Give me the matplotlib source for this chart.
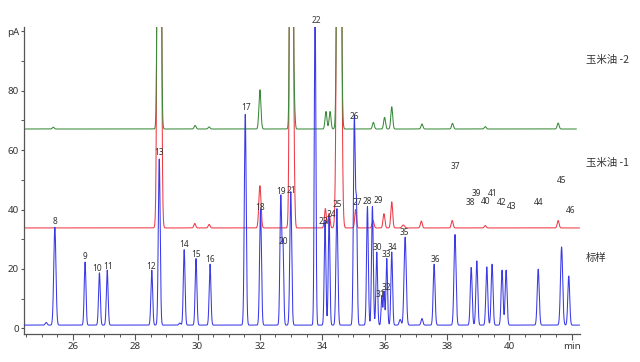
import numpy as np
import matplotlib
matplotlib.use("Agg")
import matplotlib.pyplot as plt

plt.rcParams['font.family'] = ['Noto Sans', 'Noto Sans CJK SC', 'DejaVu Sans']

# ---------------- data ----------------
# standard mixture (标样): retention time (min), apex height (pA), peak width (min)
std_rt = [25.14, 25.42, 26.39, 26.85, 27.10, 28.53, 28.77, 29.43, 29.57, 29.95, 30.40,
          31.53, 32.02, 32.67, 32.74, 32.99, 33.77, 34.09, 34.22, 34.47, 35.03, 35.10,
          35.45, 35.61, 35.75, 35.91, 35.98, 36.07, 36.23, 36.50, 36.66, 37.20, 37.59,
          38.26, 38.78, 38.96, 39.28, 39.45, 39.77, 39.90, 40.93, 41.68, 41.91]
std_h = [2.0, 34.0, 22.3, 18.7, 19.6, 19.6, 57.0, 1.8, 26.5, 23.5, 21.6,
         72.0, 40.0, 44.4, 27.3, 46.0, 112.0, 36.0, 37.5, 40.3, 71.0, 39.0,
         41.0, 41.0, 25.7, 11.0, 12.5, 23.5, 25.7, 3.0, 30.7, 3.3, 21.6,
         31.6, 20.5, 22.7, 20.7, 21.6, 19.6, 19.6, 19.9, 27.4, 17.6]
std_w = [0.03, 0.035, 0.028, 0.028, 0.028, 0.028, 0.03, 0.03, 0.028, 0.028, 0.028,
         0.03, 0.03, 0.028, 0.025, 0.03, 0.025, 0.026, 0.026, 0.03, 0.03, 0.025,
         0.028, 0.028, 0.026, 0.022, 0.022, 0.025, 0.027, 0.03, 0.035, 0.03, 0.03,
         0.033, 0.03, 0.03, 0.03, 0.03, 0.03, 0.03, 0.032, 0.035, 0.03]
std_base = 1.1

# peak labels and where their text sits (min, pA)
peak_labels = [str(n) for n in range(8, 47)]
label_x = [25.42, 26.39, 26.79, 27.13, 28.50, 28.76, 29.56, 29.95, 30.40, 31.55,
           32.00, 32.68, 32.74, 33.02, 33.80, 34.03, 34.30, 34.49, 35.02, 35.13,
           35.44, 35.80, 35.76, 35.86, 36.05, 36.05, 36.25, 36.63, 37.62, 38.26,
           38.74, 38.94, 39.25, 39.46, 39.77, 40.07, 40.93, 41.67, 41.96]
label_y = [36.0, 24.3, 20.2, 20.9, 20.9, 59.2, 28.3, 24.9, 23.3, 74.3,
           40.7, 46.1, 29.3, 46.4, 103.5, 36.0, 38.3, 41.7, 71.2, 42.4,
           42.7, 43.1, 27.3, 11.5, 13.9, 24.9, 27.3, 32.3, 23.3, 54.5,
           42.4, 45.4, 42.8, 45.4, 42.4, 41.0, 42.4, 49.8, 39.7]

# 玉米油 -1
oil1_rt = [28.77, 29.91, 30.37, 32.00, 33.01, 33.10, 34.10, 34.22, 34.54, 35.07,
           35.63, 35.98, 36.23, 36.60, 37.18, 38.17, 39.23, 41.57]
oil1_h = [500.0, 35.3, 35.0, 48.0, 420.0, 44.0, 40.3, 38.7, 420.0, 40.0,
          36.3, 38.6, 42.6, 34.8, 36.1, 36.3, 34.6, 36.3]
oil1_w = [0.042, 0.03, 0.03, 0.035, 0.038, 0.025, 0.03, 0.03, 0.05, 0.028,
          0.03, 0.03, 0.03, 0.04, 0.03, 0.03, 0.03, 0.03]
oil1_base = 33.8

# 玉米油 -2
oil2_rt = [25.37, 28.77, 29.92, 30.37, 32.00, 33.01, 33.10, 34.12, 34.25, 34.54,
           35.64, 36.00, 36.23, 37.20, 38.18, 39.23, 41.57]
oil2_h = [67.7, 500.0, 68.3, 67.8, 80.3, 420.0, 75.5, 73.0, 73.0, 420.0,
          69.3, 71.0, 74.6, 68.8, 69.0, 67.9, 69.1]
oil2_w = [0.03, 0.037, 0.03, 0.03, 0.032, 0.033, 0.025, 0.03, 0.03, 0.043,
          0.03, 0.03, 0.03, 0.03, 0.03, 0.03, 0.03]
oil2_base = 67.1

trace_names = ["玉米油 -2", "玉米油 -1", "标样"]

x_ticks = [26, 28, 30, 32, 34, 36, 38, 40, 42]
x_ticklabels = ["26", "28", "30", "32", "34", "36", "38", "40", "min"]
y_ticks = [0, 20, 40, 60, 80, 100]
y_ticklabels = ["0", "20", "40", "60", "80", "pA"]


def trace(t, rts, hs, ws, base):
    y = np.full_like(t, base)
    for r, h, w in zip(rts, hs, ws):
        y += (h - base) * np.exp(-0.5 * ((t - r) / w) ** 2)
    return y


fig = plt.figure(figsize=(6.4, 3.62), dpi=100)
ax = fig.add_axes([0.0375, 0.0773, 0.8687, 0.8487])

x0, x1 = 24.43, 42.27
t_std = np.linspace(x0, 42.25, 12000)
t_o1 = np.linspace(x0, 42.25, 12000)
t_o2 = np.linspace(x0, 42.15, 12000)

ax.plot(t_std, trace(t_std, std_rt, std_h, std_w, std_base), color="#3a3ae6", lw=0.75, zorder=3)
ax.plot(t_o1, trace(t_o1, oil1_rt, oil1_h, oil1_w, oil1_base), color="#ee3a45", lw=0.75, zorder=2)
ax.plot(t_o2, trace(t_o2, oil2_rt, oil2_h, oil2_w, oil2_base), color="#3a8a3a", lw=0.75, zorder=2)

for lab, lx, ly in zip(peak_labels, label_x, label_y):
    ax.text(lx, ly, lab, fontsize=6, color="#333333", ha="center", va="center", zorder=5)

ax.set_xlim(x0, x1)
ax.set_ylim(-1.9, 101.5)
ax.set_xticks(x_ticks)
ax.set_xticklabels(x_ticklabels)
ax.set_xticks(np.arange(24.5, 42.01, 0.5), minor=True)
ax.set_yticks(y_ticks)
ax.set_yticklabels(y_ticklabels)
ax.set_yticks(np.arange(10, 101, 10), minor=True)
for s in ["top", "right"]:
    ax.spines[s].set_visible(False)
for s in ["left", "bottom"]:
    ax.spines[s].set_color("#555555")
    ax.spines[s].set_linewidth(0.9)
ax.tick_params(axis="both", which="major", length=4, width=0.8, color="#555555",
               labelsize=7, labelcolor="#333333", pad=2)
ax.tick_params(axis="both", which="minor", length=2.5, width=0.7, color="#555555")
ax.tick_params(axis="y", which="major", length=2.5, pad=1)

name_y = [0.834, 0.550, 0.287]
for nm, ny in zip(trace_names, name_y):
    fig.text(0.916, ny, nm, fontsize=7.5, color="#333333", ha="left", va="center",
             family=["Noto Sans CJK SC", "DejaVu Sans"])

fig.savefig("out.png", dpi=100)
